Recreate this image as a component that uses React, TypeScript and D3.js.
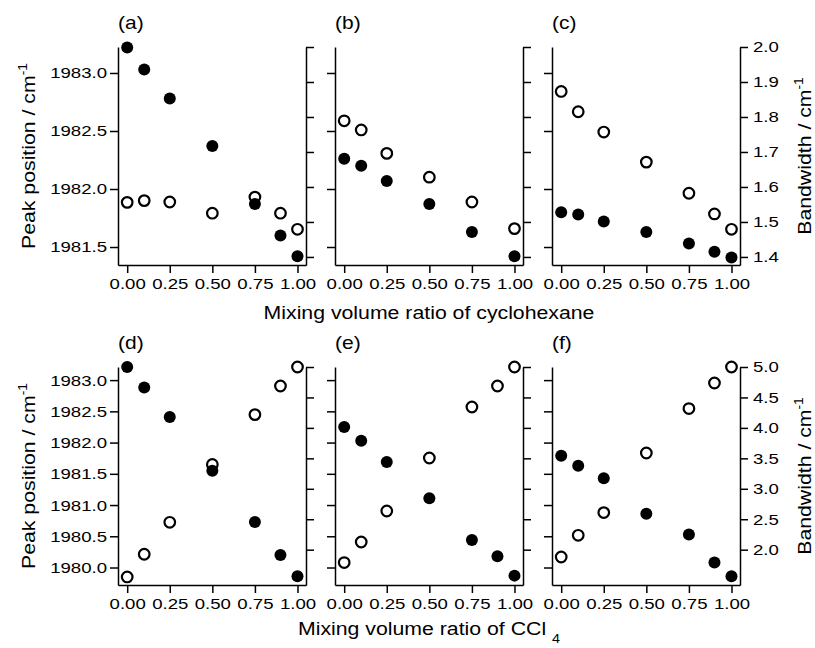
import * as d3 from "d3";
import React, { useEffect, useRef } from "react";

// mixing volume ratios
const ratioFull = [0, 0.1, 0.25, 0.5, 0.75, 0.9, 1.0];
const ratioShort = [0, 0.1, 0.25, 0.5, 0.75, 1.0];
const xTicks = [0, 0.25, 0.5, 0.75, 1.0];

// top row: cyclohexane (filled = peak position, open = bandwidth)
const peakA = [1983.22, 1983.03, 1982.78, 1982.37, 1981.87, 1981.6, 1981.42];
const bwA = [1.556, 1.561, 1.557, 1.525, 1.571, 1.525, 1.479];
const peakB = [1982.26, 1982.2, 1982.07, 1981.87, 1981.63, 1981.42];
const bwB = [1.789, 1.763, 1.696, 1.628, 1.557, 1.481];
const peakC = [1981.8, 1981.78, 1981.72, 1981.63, 1981.53, 1981.46, 1981.41];
const bwC = [1.873, 1.815, 1.757, 1.671, 1.582, 1.523, 1.479];

// bottom row: CCl4
const peakD = [1983.21, 1982.88, 1982.41, 1981.55, 1980.73, 1980.2, 1979.86];
const bwD = [1.552, 1.925, 2.45, 3.4, 4.218, 4.688, 5.0];
const peakE = [1982.25, 1982.03, 1981.69, 1981.11, 1980.44, 1980.18, 1979.87];
const bwE = [1.788, 2.126, 2.635, 3.506, 4.343, 4.688, 5.0];
const peakF = [1981.79, 1981.63, 1981.43, 1980.86, 1980.53, 1980.08, 1979.86];
const bwF = [1.88, 2.236, 2.609, 3.588, 4.317, 4.737, 5.0];

// axis ranges and ticks
const peakTicksTop = [1981.5, 1982.0, 1982.5, 1983.0];
const bwTicksTop = [1.4, 1.5, 1.6, 1.7, 1.8, 1.9, 2.0];
const peakTicksBottom = [1980.0, 1980.5, 1981.0, 1981.5, 1982.0, 1982.5, 1983.0];
const bwTicksBottom = [2.0, 2.5, 3.0, 3.5, 4.0, 4.5, 5.0];
const peakDomainTop = [1981.345, 1983.224];
const bwDomainTop = [1.377, 2.0];
const peakDomainBottom = [1979.72, 1983.21];
const bwDomainBottom = [1.42, 5.0];
const xDomain = [-0.054, 1.05];

const rows = [
  {
    peakDomain: peakDomainTop,
    bwDomain: bwDomainTop,
    peakTicks: peakTicksTop,
    bwTicks: bwTicksTop,
    title: "Mixing volume ratio of cyclohexane",
    sub: "",
    titleY: 319,
  },
  {
    peakDomain: peakDomainBottom,
    bwDomain: bwDomainBottom,
    peakTicks: peakTicksBottom,
    bwTicks: bwTicksBottom,
    title: "Mixing volume ratio of CCl",
    sub: "4",
    titleY: 635,
  },
];

const panels = [
  { label: "(a)", row: 0, col: 0, x: ratioFull, peak: peakA, bw: bwA },
  { label: "(b)", row: 0, col: 1, x: ratioShort, peak: peakB, bw: bwB },
  { label: "(c)", row: 0, col: 2, x: ratioFull, peak: peakC, bw: bwC },
  { label: "(d)", row: 1, col: 0, x: ratioFull, peak: peakD, bw: bwD },
  { label: "(e)", row: 1, col: 1, x: ratioFull, peak: peakE, bw: bwE },
  { label: "(f)", row: 1, col: 2, x: ratioFull, peak: peakF, bw: bwF },
];

const W = 815;
const H = 648;
const panelLeft = [118, 335, 552];
const panelW = 188;
const rowTop = [47, 367];
const plotH = 218;
const FONT = "'Liberation Sans', Arial, Helvetica, sans-serif";
const SX = 1.2;

const stretchText = (sel: d3.Selection<any, any, any, any>, sx: number) => {
  sel.attr("transform", function (this: SVGTextElement) {
    const x = +(this.getAttribute("x") || 0);
    return `translate(${x},0) scale(${sx},1) translate(${-x},0)`;
  });
};

const styleAxis = (g: d3.Selection<SVGGElement, unknown, null, undefined>) => {
  g.attr("font-family", null).attr("font-size", 15.5);
  g.selectAll("path.domain").attr("stroke", "#000").attr("stroke-width", 1.5);
  g.selectAll(".tick line").attr("stroke", "#000").attr("stroke-width", 1.5);
  g.selectAll<SVGTextElement, unknown>(".tick text").attr("fill", "#000").call(stretchText, SX);
};

const App: React.FC = () => {
  const svgRef = useRef<SVGSVGElement>(null);

  useEffect(() => {
    const svg = d3.select(svgRef.current);
    svg.selectAll("*").remove();

    const x = d3.scaleLinear().domain(xDomain).range([0, panelW]);

    panels.forEach((p) => {
      const r = rows[p.row];
      const yPeak = d3.scaleLinear().domain(r.peakDomain).range([plotH, 0]);
      const yBw = d3.scaleLinear().domain(r.bwDomain).range([plotH, 0]);
      const g = svg
        .append("g")
        .attr("transform", `translate(${panelLeft[p.col]},${rowTop[p.row]})`);

      // left axis: peak position
      g.append("g")
        .call(
          d3
            .axisLeft(yPeak)
            .tickValues(r.peakTicks)
            .tickSize(8)
            .tickSizeOuter(0)
            .tickPadding(3)
            .tickFormat((d) => (p.col === 0 ? d3.format(".1f")(d as number) : ""))
        )
        .call(styleAxis);

      // right axis: bandwidth
      g.append("g")
        .attr("transform", `translate(${panelW},0)`)
        .call(
          d3
            .axisRight(yBw)
            .tickValues(r.bwTicks)
            .tickSize(8)
            .tickSizeOuter(0)
            .tickPadding(5)
            .tickFormat((d) => (p.col === 2 ? d3.format(".1f")(d as number) : ""))
        )
        .call(styleAxis);

      // bottom axis
      g.append("g")
        .attr("transform", `translate(0,${plotH})`)
        .call(
          d3
            .axisBottom(x)
            .tickValues(xTicks)
            .tickSize(8)
            .tickSizeOuter(0)
            .tickPadding(5)
            .tickFormat(d3.format(".2f"))
        )
        .call(styleAxis);

      // panel label
      g.append("text")
        .attr("transform", `translate(0,-18.5) scale(${SX},1)`)
        .attr("font-size", 17.5)
        .text(p.label);

      // open circles (bandwidth)
      g.append("g")
        .selectAll("circle")
        .data(p.bw)
        .join("circle")
        .attr("cx", (_, i) => x(p.x[i]))
        .attr("cy", (d) => yBw(d))
        .attr("r", 5.3)
        .attr("fill", "#fff")
        .attr("stroke", "#000")
        .attr("stroke-width", 2.2);

      // filled circles (peak position)
      g.append("g")
        .selectAll("circle")
        .data(p.peak)
        .join("circle")
        .attr("cx", (_, i) => x(p.x[i]))
        .attr("cy", (d) => yPeak(d))
        .attr("r", 6)
        .attr("fill", "#000");
    });

    rows.forEach((r, ri) => {
      const top = rowTop[ri];
      const mid = top + plotH / 2;

      // left title
      const lt = svg
        .append("g")
        .attr("transform", `translate(35,${mid}) rotate(-90) scale(1.15,1)`)
        .append("text")
        .attr("text-anchor", "middle")
        .attr("font-size", 18.5);
      lt.append("tspan").text("Peak position / cm");
      lt.append("tspan").attr("font-size", 12).attr("dy", -8).text("-1");

      // right title
      const rt = svg
        .append("g")
        .attr("transform", `translate(811,${mid}) rotate(-90) scale(1.15,1)`)
        .append("text")
        .attr("text-anchor", "middle")
        .attr("font-size", 18.5);
      rt.append("tspan").text("Bandwidth / cm");
      rt.append("tspan").attr("font-size", 12).attr("dy", -8).text("-1");

      // bottom title
      const bt = svg
        .append("g")
        .attr("transform", `translate(429,${r.titleY}) scale(1.15,1)`)
        .append("text")
        .attr("text-anchor", "middle")
        .attr("font-size", 18.5);
      bt.append("tspan").text(r.title);
      if (r.sub) {
        bt.append("tspan").text(" ");
        bt.append("tspan").attr("font-size", 12.5).attr("dy", 8).text(r.sub);
      }
    });
  }, []);

  return (
    <svg
      ref={svgRef}
      width={W}
      height={H}
      style={{ position: "absolute", left: 0, top: 0, background: "#fff" }}
      fontFamily={FONT}
    />
  );
};

export default App;
